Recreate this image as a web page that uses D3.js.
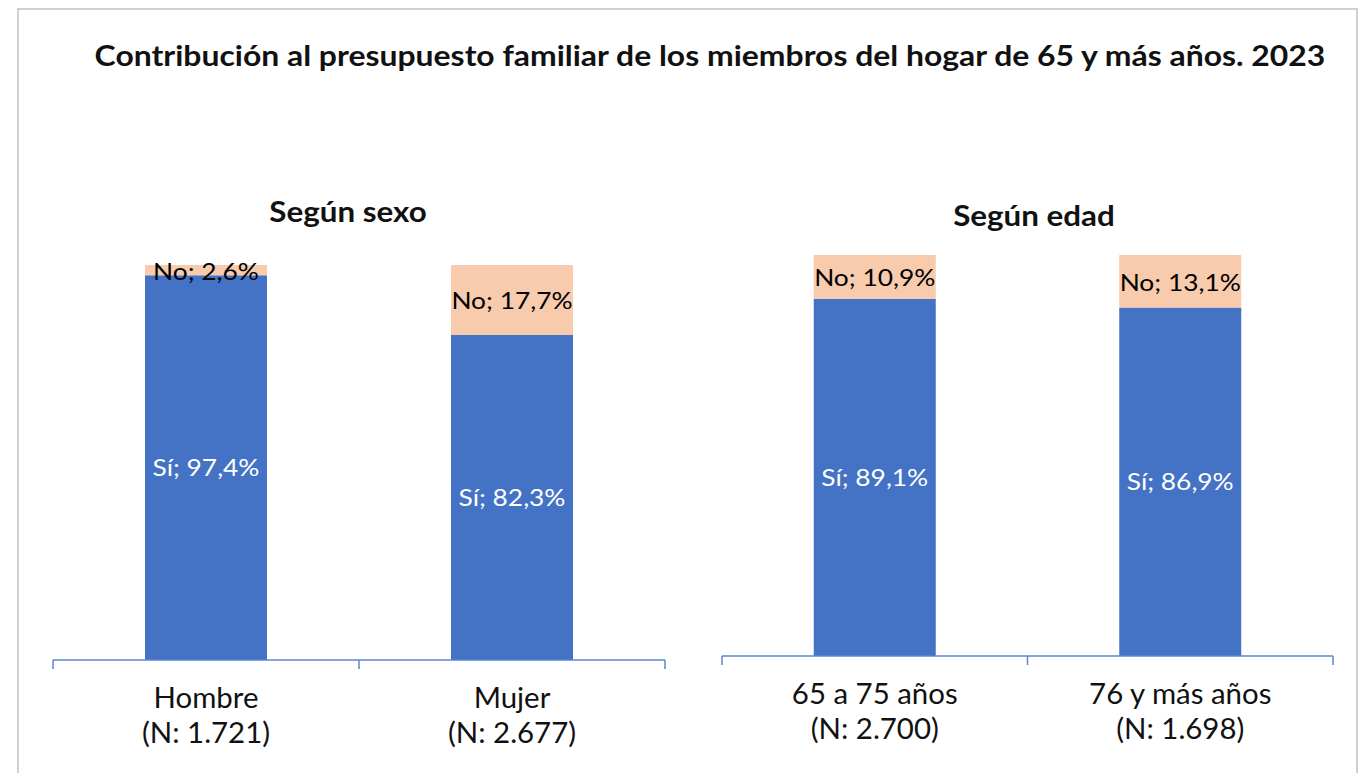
<!DOCTYPE html>
<html>
<head>
<meta charset="utf-8">
<script src="https://cdn.jsdelivr.net/npm/d3@7"></script>
<style>
  body { margin: 0; background: #fff; }
  svg { font-family: Lato, "Open Sans", sans-serif; }
</style>
</head>
<body>
<script>
// data
var title = "Contribución al presupuesto familiar de los miembros del hogar de 65 y más años. 2023";
var panelTitles = ["Según sexo", "Según edad"];
var sexoCats = ["Hombre", "Mujer"];
var sexoN = ["(N: 1.721)", "(N: 2.677)"];
var sexoSi = [97.4, 82.3];
var sexoNo = [2.6, 17.7];
var edadCats = ["65 a 75 años", "76 y más años"];
var edadN = ["(N: 2.700)", "(N: 1.698)"];
var edadSi = [89.1, 86.9];
var edadNo = [10.9, 13.1];

var width = 1363, height = 773;
var blue = "#4472C4", peach = "#F8CBAD", axisColor = "#5B86D2";

var svg = d3.select("body").append("svg")
    .attr("width", width)
    .attr("height", height);

// text in the original is a bit wider than Lato renders here, stretch it
function stretch(sel, k) {
  sel.each(function() {
    var w = this.getComputedTextLength();
    d3.select(this).attr("textLength", w * k).attr("lengthAdjust", "spacingAndGlyphs");
  });
}

// outer frame
svg.append("rect")
    .attr("x", 18).attr("y", 9)
    .attr("width", 1339).attr("height", 780)
    .attr("fill", "#fff")
    .attr("stroke", "#d0d0d0")
    .attr("stroke-width", 2);

svg.append("text")
    .attr("x", 710).attr("y", 66)
    .attr("text-anchor", "middle")
    .attr("font-size", 29)
    .attr("font-weight", "bold")
    .attr("fill", "#111")
    .text(title)
    .call(stretch, 1.10);

function fmt(v) { return d3.format(".1f")(v).replace(".", ",") + "%"; }

function panel(x0, x1, yBase, yTop, titleX, titleY, subTitle, cats, nLabels, si, no) {
  var g = svg.append("g");
  var x = d3.scaleBand().domain(cats).range([x0, x1]).paddingInner(0).paddingOuter(0);
  var y = d3.scaleLinear().domain([0, 100]).range([yBase, yTop]);
  var bw = 122;

  g.append("text")
      .attr("x", titleX).attr("y", titleY)
      .attr("text-anchor", "middle")
      .attr("font-size", 28.5)
      .attr("font-weight", "bold")
      .attr("fill", "#111")
      .text(subTitle)
      .call(stretch, 1.1);

  var rows = cats.map(function(c, i) { return {c: c, n: nLabels[i], si: si[i], no: no[i]}; });

  // Sí segment
  g.selectAll(".si").data(rows).enter().append("rect")
      .attr("x", function(d) { return x(d.c) + x.bandwidth() / 2 - bw / 2; })
      .attr("y", function(d) { return y(d.si); })
      .attr("width", bw)
      .attr("height", function(d) { return y(0) - y(d.si); })
      .attr("fill", blue);
  // No segment
  g.selectAll(".no").data(rows).enter().append("rect")
      .attr("x", function(d) { return x(d.c) + x.bandwidth() / 2 - bw / 2; })
      .attr("y", function(d) { return y(d.si + d.no); })
      .attr("width", bw)
      .attr("height", function(d) { return y(d.si) - y(d.si + d.no); })
      .attr("fill", peach);

  g.selectAll(".lsi").data(rows).enter().append("text")
      .attr("x", function(d) { return x(d.c) + x.bandwidth() / 2; })
      .attr("y", function(d) { return (y(0) + y(d.si)) / 2; })
      .attr("dy", "0.36em")
      .attr("text-anchor", "middle")
      .attr("font-size", 23.5)
      .attr("fill", "#fff")
      .text(function(d) { return "Sí; " + fmt(d.si); })
      .call(stretch, 1.12);
  g.selectAll(".lno").data(rows).enter().append("text")
      .attr("x", function(d) { return x(d.c) + x.bandwidth() / 2; })
      .attr("y", function(d) { return (y(d.si) + y(d.si + d.no)) / 2; })
      .attr("dy", "0.4em")
      .attr("text-anchor", "middle")
      .attr("font-size", 23.5)
      .attr("fill", "#000")
      .text(function(d) { return "No; " + fmt(d.no); })
      .call(stretch, 1.12);

  // axis: baseline with ticks at band edges
  var axis = g.append("g").attr("transform", "translate(0," + yBase + ")");
  axis.append("line")
      .attr("x1", x0).attr("x2", x1)
      .attr("stroke", axisColor).attr("stroke-width", 1.5);
  var edges = cats.map(function(c) { return x(c); }).concat([x1]);
  axis.selectAll(".tk").data(edges).enter().append("line")
      .attr("x1", function(d) { return d; }).attr("x2", function(d) { return d; })
      .attr("y1", 0).attr("y2", 9)
      .attr("stroke", axisColor).attr("stroke-width", 1.5);

  axis.selectAll(".cat").data(rows).enter().append("text")
      .attr("x", function(d) { return x(d.c) + x.bandwidth() / 2; })
      .attr("y", 48)
      .attr("text-anchor", "middle")
      .attr("font-size", 28)
      .attr("fill", "#111")
      .text(function(d) { return d.c; })
      .call(stretch, 1.05);
  axis.selectAll(".catn").data(rows).enter().append("text")
      .attr("x", function(d) { return x(d.c) + x.bandwidth() / 2; })
      .attr("y", 83)
      .attr("text-anchor", "middle")
      .attr("font-size", 28)
      .attr("fill", "#111")
      .text(function(d) { return d.n; })
      .call(stretch, 1.05);
}

panel(53, 665, 660, 265, 348, 222, panelTitles[0], sexoCats, sexoN, sexoSi, sexoNo);
panel(722, 1333, 656, 255, 1034, 226, panelTitles[1], edadCats, edadN, edadSi, edadNo);
</script>
</body>
</html>
